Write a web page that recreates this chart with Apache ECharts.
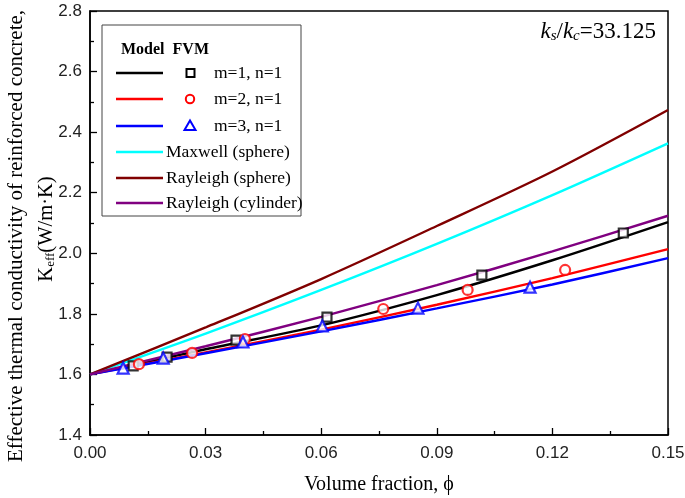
<!DOCTYPE html>
<html>
<head>
<meta charset="utf-8">
<script src="https://cdn.jsdelivr.net/npm/echarts@6/dist/echarts.min.js"></script>
<style>html,body{margin:0;padding:0;background:#fff}#c{width:685px;height:498px}</style>
</head>
<body>
<div id="c"></div>
<script>
// Volume fraction grid for model curves
const phi = [0, 0.03, 0.06, 0.09, 0.12, 0.15];
const modelM1 = [1.600, 1.683, 1.762, 1.862, 1.977, 2.103];
const modelM2 = [1.600, 1.673, 1.748, 1.830, 1.918, 2.014];
const modelM3 = [1.600, 1.670, 1.742, 1.818, 1.897, 1.984];
const maxwellSphere = [1.600, 1.735, 1.879, 2.031, 2.192, 2.363];
const rayleighSphere = [1.600, 1.755, 1.915, 2.090, 2.270, 2.473];
const rayleighCylinder = [1.600, 1.693, 1.790, 1.895, 2.006, 2.124];
// FVM results
const fvmM1Phi = [0.0112, 0.0200, 0.0379, 0.0615, 0.1017, 0.1384];
const fvmM1K   = [1.628, 1.657, 1.713, 1.789, 1.928, 2.067];
const fvmM2Phi = [0.0127, 0.0265, 0.0402, 0.0761, 0.0980, 0.1233];
const fvmM2K   = [1.634, 1.671, 1.717, 1.816, 1.879, 1.945];
const fvmM3Phi = [0.0086, 0.0190, 0.0397, 0.0603, 0.0851, 0.1142];
const fvmM3K   = [1.621, 1.654, 1.707, 1.760, 1.819, 1.888];
const xTicks = {min: 0, max: 0.15, step: 0.03};
const yTicks = {min: 1.4, max: 2.8, step: 0.2};

const pair = (xs, ys) => xs.map((x, i) => [x, ys[i]]);
const serif = '"Liberation Serif", "Times New Roman", serif';
const sans = '"Liberation Sans", Arial, sans-serif';

const lineSeries = (name, ys, color) => ({
  name, type: 'line', data: pair(phi, ys), smooth: 0.3, symbol: 'none',
  lineStyle: {color, width: 2.4}, z: 2
});
const markerSeries = (name, xs, ys, symbol, size, color) => ({
  name, type: 'scatter', data: pair(xs, ys), symbol, symbolSize: size,
  itemStyle: {color: '#fff', borderColor: color, borderWidth: 2.2}, z: 5
});

const legendRows = [
  {y: 73, color: '#000000', marker: 'rect', mcolor: '#000', text: 'm=1, n=1'},
  {y: 99, color: '#ff0000', marker: 'circle', mcolor: '#ff0000', text: 'm=2, n=1'},
  {y: 126, color: '#0000ff', marker: 'triangle', mcolor: '#0000ff', text: 'm=3, n=1'},
  {y: 152, color: '#00ffff', text: 'Maxwell (sphere)'},
  {y: 178, color: '#800000', text: 'Rayleigh (sphere)'},
  {y: 203, color: '#800080', text: 'Rayleigh (cylinder)'}
];
const legendEls = [
  {type: 'rect', shape: {x: 102, y: 25, width: 199, height: 191},
   style: {fill: '#fff', stroke: '#444', lineWidth: 1}, z: 10},
  {type: 'text', x: 121, y: 50, z: 11,
   style: {text: 'Model  FVM', font: 'bold 16px ' + serif, fill: '#000', verticalAlign: 'middle'}}
];
legendRows.forEach(r => {
  legendEls.push({type: 'line', shape: {x1: 116, y1: r.y, x2: 163, y2: r.y},
    style: {stroke: r.color, lineWidth: 2.4}, z: 11});
  if (r.marker === 'rect') {
    legendEls.push({type: 'rect', shape: {x: 186.5, y: r.y - 4, width: 8, height: 8},
      style: {fill: '#fff', stroke: r.mcolor, lineWidth: 2}, z: 11});
  } else if (r.marker === 'circle') {
    legendEls.push({type: 'circle', shape: {cx: 190, cy: r.y, r: 4.2},
      style: {fill: '#fff', stroke: r.mcolor, lineWidth: 2}, z: 11});
  } else if (r.marker === 'triangle') {
    legendEls.push({type: 'polygon', shape: {points: [[190, r.y - 5.5], [184.5, r.y + 4], [195.5, r.y + 4]]},
      style: {fill: '#fff', stroke: r.mcolor, lineWidth: 2}, z: 11});
  }
  legendEls.push({type: 'text', x: r.marker ? 214 : 166, y: r.y, z: 11,
    style: {text: r.text, font: '17.5px ' + serif, fill: '#000', verticalAlign: 'middle'}});
});

const chart = echarts.init(document.getElementById('c'), null, {renderer: 'canvas'});
chart.setOption({
  animation: false,
  backgroundColor: '#fff',
  grid: {left: 90, right: 17, top: 11, bottom: 63, show: true, borderColor: '#000', borderWidth: 1.5,
         containLabel: false, outerBoundsMode: 'none'},
  xAxis: {
    type: 'value', min: xTicks.min, max: xTicks.max, interval: xTicks.step,
    axisLine: {lineStyle: {color: '#000', width: 1.5}},
    axisTick: {inside: true, length: 7, lineStyle: {color: '#000', width: 1.3}},
    minorTick: {show: true, splitNumber: 2, length: 4, lineStyle: {color: '#000', width: 1.3}},
    splitLine: {show: false},
    axisLabel: {formatter: v => v.toFixed(2), color: '#222', fontFamily: sans, fontSize: 17, margin: 10},
    name: 'Volume fraction, ϕ', nameLocation: 'middle', nameGap: 40,
    nameTextStyle: {fontFamily: serif, fontSize: 20, color: '#000'}
  },
  yAxis: {
    type: 'value', min: yTicks.min, max: yTicks.max, interval: yTicks.step,
    axisLine: {lineStyle: {color: '#000', width: 1.5}},
    axisTick: {inside: true, length: 7, lineStyle: {color: '#000', width: 1.3}},
    minorTick: {show: true, splitNumber: 2, length: 4, lineStyle: {color: '#000', width: 1.3}},
    splitLine: {show: false},
    axisLabel: {formatter: v => v.toFixed(1), color: '#222', fontFamily: sans, fontSize: 17, margin: 8}
  },
  graphic: [
    {type: 'text', x: 16, y: 236, rotation: Math.PI / 2, z: 10,
     style: {text: 'Effective thermal conductivity of reinforced concrete,', font: '21px ' + serif,
       fill: '#000', align: 'center', verticalAlign: 'middle'}},
    {type: 'text', x: 45, y: 229, rotation: Math.PI / 2, z: 10,
     style: {text: '{a|K}{b|eff}{a|(W/m·K)}', align: 'center', verticalAlign: 'middle',
       rich: {a: {fontFamily: serif, fontSize: 20.5, lineHeight: 25, verticalAlign: 'bottom', fill: '#000'},
              b: {fontFamily: serif, fontSize: 13, lineHeight: 15, verticalAlign: 'bottom', fill: '#000'}}}},
    {type: 'text', x: 656, y: 30, z: 10,
     style: {text: '{k|k}{s|s}{n|/}{k|k}{s|c}{n|=33.125}', align: 'right', verticalAlign: 'middle',
       rich: {k: {fontFamily: serif, fontStyle: 'italic', fontSize: 23, lineHeight: 27, verticalAlign: 'bottom'},
              s: {fontFamily: serif, fontStyle: 'italic', fontSize: 15, lineHeight: 17, verticalAlign: 'bottom'},
              n: {fontFamily: serif, fontSize: 23, lineHeight: 27, verticalAlign: 'bottom'}}}}
  ].concat(legendEls),
  series: [
    lineSeries('m=1, n=1', modelM1, '#000000'),
    lineSeries('m=2, n=1', modelM2, '#ff0000'),
    lineSeries('m=3, n=1', modelM3, '#0000ff'),
    lineSeries('Maxwell (sphere)', maxwellSphere, '#00ffff'),
    lineSeries('Rayleigh (sphere)', rayleighSphere, '#800000'),
    lineSeries('Rayleigh (cylinder)', rayleighCylinder, '#800080'),
    markerSeries('FVM m=1', fvmM1Phi, fvmM1K, 'rect', 9, '#000000'),
    markerSeries('FVM m=2', fvmM2Phi, fvmM2K, 'circle', 10, '#ff0000'),
    markerSeries('FVM m=3', fvmM3Phi, fvmM3K, 'triangle', 11, '#0000ff')
  ]
});
</script>
</body>
</html>
